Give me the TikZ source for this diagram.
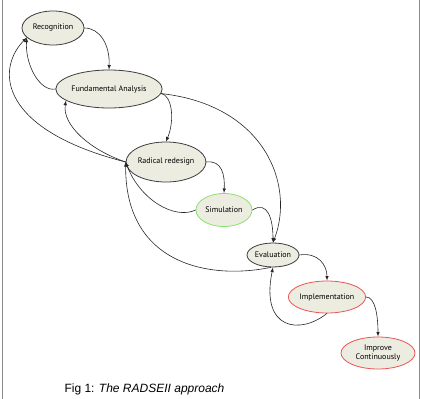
\documentclass[tikz,border=0pt]{standalone}
\usepackage{fontspec}
\setmainfont{Liberation Sans}
\newfontfamily\stagefont{PT Sans}
\usetikzlibrary{shapes.geometric}
\definecolor{stagefill}{RGB}{236,236,225}
\definecolor{stageline}{RGB}{60,60,60}
\definecolor{simline}{RGB}{140,225,110}
\definecolor{impline}{RGB}{235,85,85}

\begin{document}
\begin{tikzpicture}[x=1pt,y=-1pt,line cap=round]
	\tikzstyle{stage}=[ellipse,draw=stageline,fill=stagefill,line width=0.8pt,inner sep=0pt,font=\stagefont\fontsize{8}{9.5}\selectfont];
	\tikzstyle{simstage}=[stage,draw=simline];
	\tikzstyle{impstage}=[stage,draw=impline];
	\tikzstyle{flow}=[->,>=latex,line width=0.6pt,draw=black!85];
	\tikzstyle{frame}=[line width=1pt,draw=black!45];

	\useasboundingbox (0,0) rectangle (421,399);
	\draw[frame] (2,0)   -- (2,399);
	\draw[frame] (419,0) -- (419,399);

	\node[stage,minimum width=62pt,minimum height=34pt]    (rec)  at (53,28)   {Recognition};
	\node[stage,minimum width=96pt,minimum height=38pt]    (fund) at (109,89)  {Fundamental Analysis};
	\node[stage,minimum width=78pt,minimum height=40pt]    (rad)  at (166,162) {Radical redesign};
	\node[simstage,minimum width=56pt,minimum height=33pt] (sim)  at (224,210) {Simulation};
	\node[stage,minimum width=52pt,minimum height=24pt]    (eval) at (273,255) {Evaluation};
	\node[impstage,minimum width=74pt,minimum height=32pt] (imp)  at (327,297) {Implementation};
	\node[impstage,minimum width=74pt,minimum height=32pt,align=center] (impc) at (378,353) {Improve\\Continuously};

	% forward path
	\draw[flow] (rec.east)  .. controls (100,28)  and (110,45)  .. (fund.north);
	\draw[flow] (fund.355)  .. controls (172,95)  and (175,120) .. (rad.north);
	\draw[flow] (fund.355)  .. controls (265,105) and (295,185) .. (eval.north);
	\draw[flow] (rad.east)  .. controls (222,160) and (225,175) .. (sim.north);
	\draw[flow] (sim.east)  .. controls (268,200) and (273,220) .. (eval.north);
	\draw[flow] (eval.east) .. controls (318,252) and (327,265) .. (imp.north);
	\draw[flow] (imp.east)  .. controls (375,297) and (378,315) .. (impc.north);

	% feedback loops
	\draw[flow] (fund.west) .. controls (40,92)   and (25,65)   .. (rec.200);
	\draw[flow] (rad.west)  .. controls (0,130)   and (-5,70)   .. (rec.200);
	\draw[flow] (rad.west)  .. controls (90,150)  and (62,125)  .. (fund.195);
	\draw[flow] (sim.west)  .. controls (175,220) and (140,200) .. (rad.west);
	\draw[flow] (eval.260)  .. controls (210,280) and (125,265) .. (rad.west);
	\draw[flow] (imp.south) .. controls (300,335) and (260,330) .. (eval.270);

	\node[anchor=base west,font=\fontsize{12}{14}\selectfont] (cap) at (61,392) {Fig 1: \textit{The RADSEII approach}};
\end{tikzpicture}
\end{document}
